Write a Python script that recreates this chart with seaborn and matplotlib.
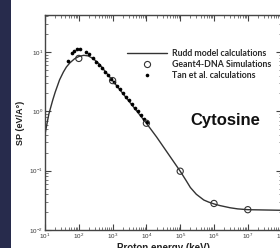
import numpy as np
import pandas as pd
import matplotlib
matplotlib.use("Agg")
import matplotlib.pyplot as plt
import seaborn as sns
from matplotlib.patches import Rectangle
from matplotlib.lines import Line2D
from matplotlib.ticker import LogLocator, FixedLocator

# ---- data ----
rudd_energy = [10, 11.5, 13, 17, 20, 27, 35, 43, 55, 75, 100, 140, 190, 250, 300,
               400, 1000, 10000, 20000, 100000, 150000, 200000, 300000, 500000,
               700000, 1e6, 1.5e6, 3e6, 5e6, 1e7, 1e8]
rudd_sp = [0.41, 0.63, 0.9, 1.56, 2.1, 3.4, 4.6, 5.6, 6.6, 7.7, 8.4, 8.8, 8.6, 7.9,
           7.3, 6.3, 3.3, 0.63, 0.37, 0.098, 0.068, 0.052, 0.040, 0.032,
           0.0295, 0.0275, 0.0258, 0.0237, 0.0227, 0.022, 0.0215]

geant_energy = [100, 1000, 1e4, 1e5, 1e6, 1e7]
geant_sp = [7.8, 3.3, 0.63, 0.098, 0.028, 0.022]

tan_energy = [48, 63, 72, 88, 109, 163, 200,
              263, 323, 396, 486, 596, 731, 897, 1100, 1350, 1655, 2030,
              2490, 3056, 3750, 4600, 5640, 6920, 8490, 10400]
tan_sp = [7.06, 9.6, 10.4, 11.2, 11.2, 10.0, 9.3,
          7.93, 6.92, 6.05, 5.28, 4.61, 4.10, 3.52, 3.13, 2.68, 2.39, 2.05,
          1.75, 1.56, 1.34, 1.15, 1.02, 0.873, 0.748, 0.667]

x_ticks = [1e1, 1e2, 1e3, 1e4, 1e5, 1e6, 1e7, 1e8]
x_tick_labels = [r"$\mathregular{10^{%d}}$" % e for e in range(1, 9)]
y_ticks = [1e-2, 1e-1, 1e0, 1e1]
y_tick_labels = [r"$\mathregular{10^{%d}}$" % e for e in range(-2, 2)]

labels = ["Rudd model calculations", "Geant4-DNA Simulations", "Tan et al. calculations"]

# ---- style ----
sns.set_style("ticks")
plt.rcParams["font.family"] = ["Liberation Sans", "DejaVu Sans"]
plt.rcParams["mathtext.fontset"] = "custom"
plt.rcParams["mathtext.rm"] = "Liberation Sans"

fig = plt.figure(figsize=(2.8, 2.48), dpi=100)
fig.patch.set_facecolor("white")
fig.patches.append(Rectangle((0, 0), 11 / 280, 1, transform=fig.transFigure,
                             facecolor="#272b4c", edgecolor="none", zorder=0))

W, H = 280, 248
left, right, top, bottom = 45, 281.6, 15, 230
ax = fig.add_axes([left / W, 1 - bottom / H, (right - left) / W, (bottom - top) / H])

dark = "#333333"
rudd_df = pd.DataFrame({"E": rudd_energy, "SP": rudd_sp})
geant_df = pd.DataFrame({"E": geant_energy, "SP": geant_sp})
tan_df = pd.DataFrame({"E": tan_energy, "SP": tan_sp})

sns.lineplot(data=rudd_df, x="E", y="SP", ax=ax, color=dark, lw=1.0, sort=False, zorder=2)
sns.scatterplot(data=tan_df, x="E", y="SP", ax=ax, color="black", s=7, linewidth=0, zorder=3)
sns.scatterplot(data=geant_df, x="E", y="SP", ax=ax, facecolor="none", edgecolor=dark,
                s=20, linewidth=0.8, zorder=4)

ax.set_xscale("log")
ax.set_yscale("log")
ax.set_xlim(1e1, 1e8)
ax.set_ylim(1e-2, 10 ** 1.624)

ax.xaxis.set_major_locator(FixedLocator(x_ticks))
ax.set_xticklabels(x_tick_labels)
ax.yaxis.set_major_locator(FixedLocator(y_ticks))
ax.set_yticklabels(y_tick_labels)
ax.xaxis.set_minor_locator(LogLocator(base=10, subs=np.arange(2, 10), numticks=20))
ax.yaxis.set_minor_locator(LogLocator(base=10, subs=np.arange(2, 10), numticks=20))
ax.tick_params(which="both", direction="in", top=True, right=True, colors="#444444",
               labelcolor="#333333")
ax.tick_params(which="major", length=4, width=0.8, labelsize=4.5, pad=1.5)
ax.tick_params(which="minor", length=2, width=0.5)
for sp in ax.spines.values():
    sp.set_color("#444444")
    sp.set_linewidth(1.0)

ax.set_xlabel("Proton energy (keV)", fontsize=7, fontweight="bold", labelpad=1, color="#222222")
ax.set_ylabel("SP (eV/A°)", fontsize=6.5, fontweight="bold", labelpad=3, color="#222222")

handles = [Line2D([], [], color=dark, lw=1.0),
           Line2D([], [], ls="none", marker="o", mfc="none", mec=dark, ms=4.4, mew=0.8),
           Line2D([], [], ls="none", marker="o", mfc="black", mec="none", ms=2.6)]
leg = fig.legend(handles, labels, loc="upper left", bbox_to_anchor=(127 / W, 1 - 49 / H),
                 frameon=False, borderpad=0, borderaxespad=0, handlelength=4.6,
                 handletextpad=0.6, labelspacing=0.25,
                 prop={"family": "Lato", "weight": "bold", "size": 6.3})
for t in leg.get_texts():
    t.set_color("#2a2a2a")

fig.text(225 / W, 1 - 121 / H, "Cytosine", fontsize=12, fontweight="bold",
         ha="center", va="center", color="#111111")

fig.savefig("out.png", dpi=100)
